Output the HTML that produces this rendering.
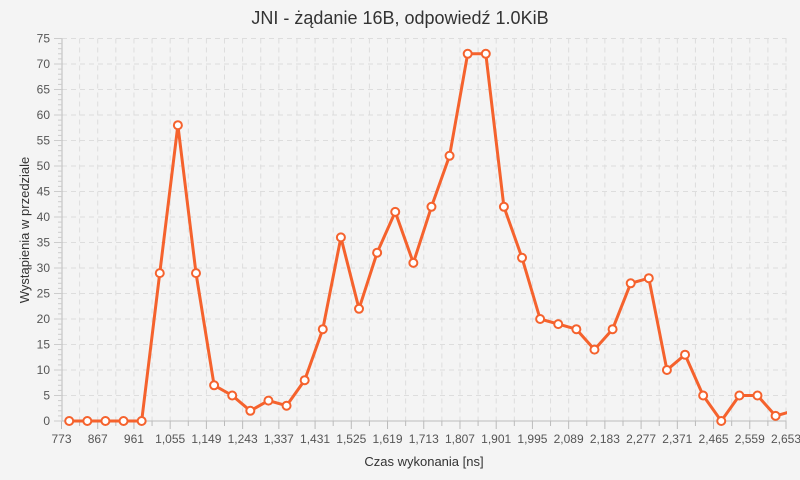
<!DOCTYPE html>
<html><head><meta charset="utf-8"><style>
body{margin:0;background:#f4f4f4;}
svg{display:block;font-family:"Liberation Sans",sans-serif;}
</style></head><body>
<svg id="c" width="800" height="480">
<text x="400" y="24" text-anchor="middle" font-size="18" fill="#333">JNI - żądanie 16B, odpowiedź 1.0KiB</text>
<text transform="translate(29,230) rotate(-90)" text-anchor="middle" font-size="13" fill="#333">Wystąpienia w przedziale</text>
<text x="424" y="466" text-anchor="middle" font-size="13" fill="#333">Czas wykonania [ns]</text>
<defs><clipPath id="clp"><rect x="62" y="30" width="725" height="400"/></clipPath></defs>
<g id="grid"></g><g id="axes"></g><g id="series" clip-path="url(#clp)"></g>
</svg>
<script>
const xStart = 793, binWidth = 47;
const counts = [0,0,0,0,0,29,58,29,7,5,2,4,3,8,18,36,22,33,41,31,42,52,72,72,42,32,20,19,18,14,18,27,28,10,13,5,0,5,5,1,2];
const xTicks = [773,867,961,1055,1149,1243,1337,1431,1525,1619,1713,1807,1901,1995,2089,2183,2277,2371,2465,2559,2653];
const yTicks = [0,5,10,15,20,25,30,35,40,45,50,55,60,65,70,75];
const X0=62, X1=786.5, Y0=421, Y1=38.5;
const xs = v => X0 + (v-773)/(2653-773)*(X1-X0) - 0.5;
const ys = v => Y0 - v/75*(Y0-Y1);
const NS="http://www.w3.org/2000/svg";
function mk(t,a,p){const e=document.createElementNS(NS,t);for(const k in a)e.setAttribute(k,a[k]);p.appendChild(e);return e;}
const grid=document.getElementById('grid'), axes=document.getElementById('axes'), series=document.getElementById('series');
for(let i=0;i<xTicks.length*2-1;i++){const v=773+i*47;const x=xs(v);if(x<=X0+1)continue;
 const l=mk('line',{x1:x,x2:x,y1:Y1,y2:Y0,stroke:'#ddd','stroke-dasharray':'5,4'},grid);
 
 }
for(let i=1;i<=15;i++){const y=ys(i*5);
 const l=mk('line',{x1:X0,x2:X1,y1:y,y2:y,stroke:'#ddd','stroke-dasharray':'5,4'},grid);
 
 }
mk('line',{x1:X0,x2:X1,y1:Y0,y2:Y0,stroke:'#bbb'},axes);
mk('line',{x1:X0,x2:X0,y1:Y1,y2:Y0,stroke:'#bbb'},axes);
for(let i=0;i<xTicks.length*2-1;i++){const x=xs(773+i*47);mk('line',{x1:x,x2:x,y1:Y0,y2:Y0+(i%2?5:8),stroke:'#bbb'},axes);}
xTicks.forEach(v=>{const t=mk('text',{x:xs(v),y:Y0+22,'text-anchor':'middle','font-size':12,fill:'#555'},axes);t.textContent=v.toLocaleString('en-US');
 
 });
for(let i=0;i<=75;i++){const y=ys(i);mk('line',{x1:X0-(i%5?4:8),x2:X0,y1:y,y2:y,stroke:'#ccc'},axes);}
yTicks.forEach(v=>{const t=mk('text',{x:X0-12,y:ys(v)+4,'text-anchor':'end','font-size':12,fill:'#555'},axes);t.textContent=v;
 
 });
const pts=counts.map((c,i)=>[xs(xStart+i*binWidth),ys(c)]);
const pl=mk('polyline',{points:pts.map(p=>p.join(',')).join(' '),fill:'none',stroke:'#f5622d','stroke-width':3,'stroke-linejoin':'round'},series);


pts.forEach(p=>{const c=mk('circle',{cx:p[0],cy:p[1],r:4,fill:'#fff',stroke:'#f5622d','stroke-width':2},series);
 
 });
</script>
</body></html>
